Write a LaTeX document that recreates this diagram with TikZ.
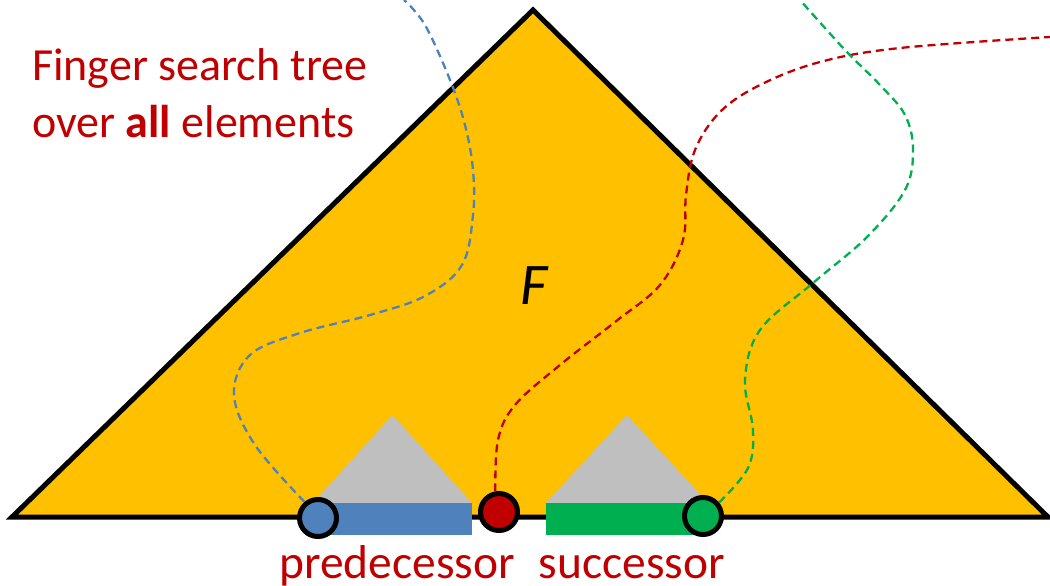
\documentclass[tikz,border=0pt]{standalone}
\usepackage{fontspec}
\setmainfont{Carlito}
\usepackage{tikz}
\usetikzlibrary{positioning}
\definecolor{ftyellow}{RGB}{255,192,0}
\definecolor{ftred}{RGB}{192,0,0}
\definecolor{ftblue}{RGB}{79,129,189}
\definecolor{ftgreen}{RGB}{0,176,80}
\definecolor{ftgray}{RGB}{191,191,191}
\newcommand{\subtree}[3]{%
  \fill[ftgray] (#1,503) -- ({(#1+#2)/2},415) -- (#2,503) -- cycle;
  \fill[#3] (#1,503) rectangle (#2,535);
}

\begin{document}
\begin{tikzpicture}[x=1pt,y=-1pt,
    finger/.style={circle,draw=black,line width=5pt,inner sep=0pt,minimum size=37pt},
    walk/.style={line width=2.3pt,dash pattern=on 8pt off 5pt},
    bigtext/.style={text=ftred,font=\fontsize{46}{57}\selectfont}]
    \useasboundingbox (0,0) rectangle (1050,586);
    \filldraw[fill=ftyellow,draw=black,line width=5pt] (12,517) -- (533,10) -- (1048,517) -- cycle;
    \subtree{313}{472}{ftblue}
    \subtree{546}{708}{ftgreen}
    \node[font=\fontsize{59}{70}\selectfont\itshape] (F) at (534,286) {F};
    \node[finger,fill=ftblue] (pred) at (318,518) {};
    \node[finger,fill=ftred] (query) at (499,512) {};
    \node[finger,fill=ftgreen] (succ) at (703,516) {};
    \coordinate (bluetop) at (404,0);
    \coordinate (redright) at (1050,37);
    \coordinate (greentop) at (800,0);
    \draw[walk,ftblue] plot[smooth,tension=.6] coordinates {(pred.130) (255,445) (234,395) (250,355)
      (300,333) (370,315) (425,296) (462,265) (473,215) (473,170) (465,125) (450,80) (425,25) (bluetop)};
    \draw[walk,ftred] plot[smooth,tension=.6] coordinates {(query.100) (498,440) (515,405) (560,365)
      (615,322) (660,285) (683,240) (686,195) (695,150) (720,112) (760,85) (820,62) (900,48) (redright)};
    \draw[walk,ftgreen] plot[smooth,tension=.6] coordinates {(succ.40) (748,468) (753,430) (745,380)
      (760,330) (813,283) (867,237) (905,190) (913,150) (905,115) (880,85) (845,50) (greentop)};
    \node[bigtext,align=left,anchor=base west,inner sep=0pt] (title) at (32,137) {Finger search tree\\over \textbf{all} elements};
    \node[bigtext,font=\fontsize{47.5}{56}\selectfont,anchor=base,inner sep=0pt] (predlabel) at (397,578) {predecessor};
    \node[bigtext,font=\fontsize{47.5}{56}\selectfont,anchor=base,inner sep=0pt] (succlabel) at (632,578) {successor};
\end{tikzpicture}
\end{document}
